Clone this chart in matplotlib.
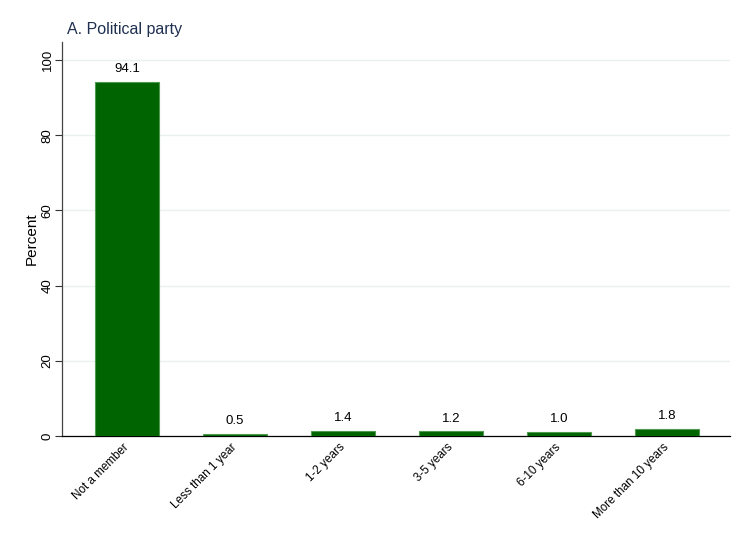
import matplotlib
matplotlib.use("Agg")
import matplotlib.pyplot as plt

plt.rcParams['font.family'] = ['Liberation Sans', 'DejaVu Sans']

categories = ["Not a member", "Less than 1 year", "1-2 years",
              "3-5 years", "6-10 years", "More than 10 years"]
percent = [94.1, 0.5, 1.4, 1.2, 1.0, 1.8]
yticks = [0, 20, 40, 60, 80, 100]

fig = plt.figure(figsize=(7.5, 5.45), dpi=100)
ax = fig.add_axes([0.0827, 0.2, 0.8906, 0.7229])

xs = range(len(categories))
bars = ax.bar(xs, percent, width=0.593, color="#006400",
              edgecolor="#4f9a4f", linewidth=0.8, zorder=3)

for x, v in zip(xs, percent):
    ax.text(x, v + 1.8, f"{v:.1f}", ha="center", va="bottom",
            fontsize=9.5, color="black")

ax.set_xlim(-0.6, 5.58)
ax.set_ylim(0, 104.8)
ax.set_yticks(yticks)
ax.set_yticklabels([str(t) for t in yticks], rotation=90, va="center",
                   fontsize=9.5)
ax.set_xticks(list(xs))
ax.set_xticklabels(categories, rotation=45, ha="right", va="center",
                   rotation_mode="anchor", fontsize=8.4)
ax.tick_params(axis="x", length=0, pad=7)
ax.tick_params(axis="y", length=5, width=0.8, color="#333333", pad=1)
ax.grid(axis="y", color="#eaf0f2", linewidth=1.0, zorder=0)

ax.spines["top"].set_visible(False)
ax.spines["right"].set_visible(False)
ax.spines["left"].set_color("#444444")
ax.spines["bottom"].set_color("black")
ax.spines["left"].set_linewidth(0.9)
ax.spines["bottom"].set_linewidth(0.9)

ax.set_ylabel("Percent", fontsize=11, labelpad=2)
ax.set_title("A. Political party", loc="left", fontsize=11.5,
             color="#1f3050", pad=6, x=0.007)

fig.savefig("out.png", dpi=100)
